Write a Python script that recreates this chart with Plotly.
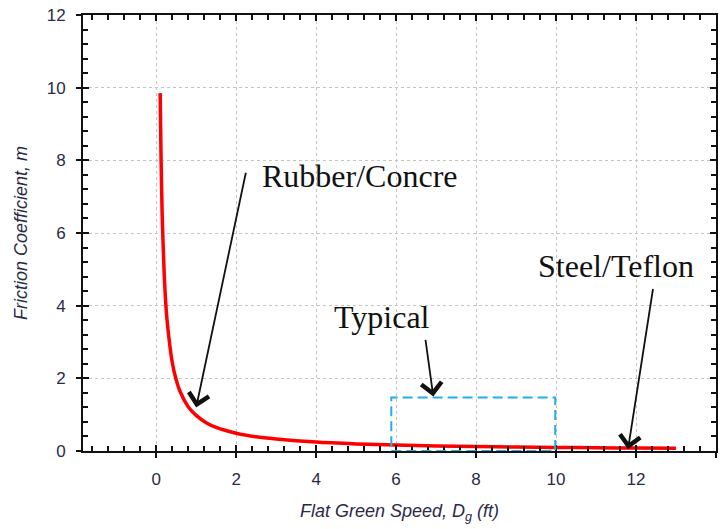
import plotly.graph_objects as go

# Curve
speed_ft = [0.10, 0.12, 0.15, 0.20, 0.25, 0.30, 0.40, 0.50, 0.60, 0.80, 1.00, 1.25, 1.50,
            2.0, 2.5, 3.0, 4.0, 5.0, 6.0, 7.0, 8.0, 9.0, 10.0, 11.0, 12.0, 13.0]
friction = [9.85, 8.2, 6.5, 4.9, 3.9, 3.3, 2.45, 1.96, 1.63, 1.22, 0.98, 0.78, 0.65,
            0.49, 0.39, 0.33, 0.245, 0.196, 0.163, 0.14, 0.122, 0.109, 0.098, 0.089, 0.082, 0.075]

# Typical region box
typ_x = [5.88, 9.98]
typ_y = [0.0, 1.47]

# Annotations: label, text x/y, arrow tail x/y, arrow tip x/y
labels = ["Rubber/Concre", "Typical", "Steel/Teflon"]
label_x = [5.1, 5.64, 11.49]
label_y = [7.58, 3.68, 5.09]
tail_x = [2.25, 6.73, 12.43]
tail_y = [7.7, 3.1, 4.5]
tip_x = [1.0, 6.93, 11.8]
tip_y = [1.2, 1.5, 0.05]

fig = go.Figure()
fig.add_trace(go.Scatter(x=speed_ft, y=friction, mode="lines",
                         line=dict(color="#ff0000", width=3.5, shape="spline", smoothing=0.6),
                         showlegend=False, hoverinfo="skip"))
# invisible trace to carry the overlay axes (outer half of major ticks)
fig.add_trace(go.Scatter(x=[speed_ft[0]], y=[friction[0]], xaxis="x2", yaxis="y2",
                         mode="markers", marker=dict(opacity=0), showlegend=False, hoverinfo="skip"))

fig.add_shape(type="rect", x0=typ_x[0], x1=typ_x[1], y0=typ_y[0], y1=typ_y[1],
              xref="x", yref="y", line=dict(color="#22aee8", width=2, dash="10px,5px"))

for i in range(3):
    fig.add_annotation(x=label_x[i], y=label_y[i], text=labels[i], showarrow=False,
                       xref="x", yref="y",
                       font=dict(family="Liberation Serif", size=32, color="#111111"))
    fig.add_annotation(x=tip_x[i], y=tip_y[i], ax=tail_x[i], ay=tail_y[i],
                       xref="x", yref="y", axref="x", ayref="y", text="",
                       showarrow=True, arrowhead=4, arrowsize=2.2, arrowwidth=1.8,
                       arrowcolor="#111111")

tickfont = dict(family="Liberation Sans", size=17, color="#2a2a48")
titlefont = dict(family="Liberation Sans", size=18, color="#2a2a48")
axis_common = dict(
    showline=True, linecolor="#111111", linewidth=2, mirror="allticks",
    ticks="inside", ticklen=6, tickwidth=1.5, tickcolor="#111111",
    showgrid=True, gridcolor="#c4c4c4", griddash="dot", gridwidth=1,
    zeroline=False, tickfont=tickfont,
)
xrange = [-1.83, 14]
yrange = [0, 12]
fig.update_layout(
    xaxis=dict(range=xrange, tick0=0, dtick=2,
               minor=dict(dtick=0.4, tick0=0, ticks="inside", ticklen=5, tickcolor="#111111", showgrid=False),
               title=dict(text="<i>Flat Green Speed, D<sub>g</sub> (ft)</i>", font=titlefont, standoff=16),
               ticklabelstandoff=12, **axis_common),
    yaxis=dict(range=yrange, tick0=0, dtick=2,
               minor=dict(dtick=0.4, tick0=0, ticks="inside", ticklen=5, tickcolor="#111111", showgrid=False),
               title=dict(text="<i>Friction Coefficient, m</i>", font=titlefont, standoff=14),
               ticklabelstandoff=12, **axis_common),
    xaxis2=dict(range=xrange, tick0=0, dtick=2, overlaying="x", side="bottom", anchor="y2",
                ticks="outside", ticklen=6, tickwidth=1.5, tickcolor="#111111",
                showticklabels=False, showgrid=False, showline=False, zeroline=False),
    yaxis2=dict(range=yrange, tick0=0, dtick=2, overlaying="y", side="left", anchor="x2",
                ticks="outside", ticklen=6, tickwidth=1.5, tickcolor="#111111",
                showticklabels=False, showgrid=False, showline=False, zeroline=False),
    width=725, height=529, margin=dict(l=83, r=9, t=15, b=78, autoexpand=False),
    paper_bgcolor="white", plot_bgcolor="white",
)

fig.write_html("out.html")
